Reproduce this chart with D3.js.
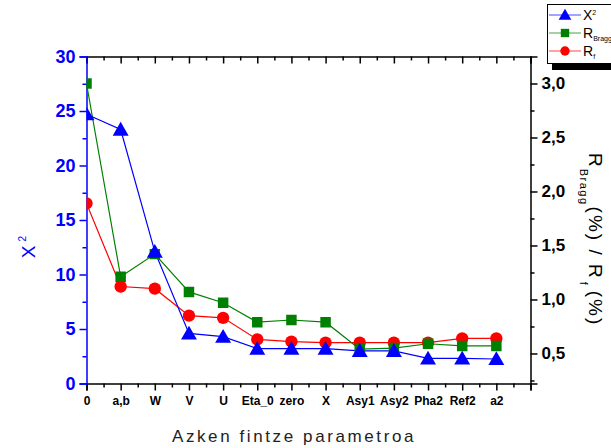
<!DOCTYPE html>
<html>
<head>
<meta charset="utf-8">
<script src="https://cdn.jsdelivr.net/npm/d3@7"></script>
<style>
  html, body { margin: 0; padding: 0; background: #fff; }
  svg { display: block; font-family: "Liberation Sans", Arial, sans-serif; }
</style>
</head>
<body>
<svg id="chart" width="611" height="448"></svg>
<script>
// Refinement steps along the x axis
const categories = ["0", "a,b", "W", "V", "U", "Eta_0", "zero", "X", "Asy1", "Asy2", "Pha2", "Ref2", "a2"];

// Goodness of fit (left axis)
const chi2 = [24.7, 23.3, 12.1, 4.6, 4.3, 3.2, 3.2, 3.2, 3.0, 3.0, 2.3, 2.3, 2.25];
// Agreement factors in % (right axis)
const rBragg = [3.0, 1.21, 1.42, 1.07, 0.97, 0.79, 0.81, 0.79, 0.54, 0.55, 0.59, 0.57, 0.57];
const rF = [1.89, 1.12, 1.10, 0.85, 0.83, 0.63, 0.61, 0.60, 0.60, 0.60, 0.60, 0.64, 0.64];

const leftTicks = [0, 5, 10, 15, 20, 25, 30];
const rightTicks = [0.5, 1.0, 1.5, 2.0, 2.5, 3.0];

const svg = d3.select("#chart");
const plot = { left: 86.5, right: 530.5, top: 56.5, bottom: 383.5 };

const x = d3.scaleLinear().domain([0, categories.length]).range([plot.left, plot.right]);
const yL = d3.scaleLinear().domain([0, 30]).range([plot.bottom, plot.top]);
const yR = d3.scaleLinear().domain([0.222, 3.25]).range([plot.bottom, plot.top]);

const BLUE = "#0000ff", GREEN = "#008000", RED = "#ff0000";

function styleAxis(g, color, fontSize) {
  g.selectAll("path.domain").attr("stroke", color).attr("stroke-width", 1.5);
  g.selectAll(".tick line").attr("stroke", color).attr("stroke-width", 1.5);
  g.selectAll(".tick text").attr("font-size", fontSize).attr("font-weight", "bold").attr("fill", color)
    .attr("font-family", "'Liberation Sans', Arial, sans-serif");
  g.selectAll("g > g > path.domain").remove();
}

// Bottom axis: labelled major ticks + half-step minor ticks, pointing outward
const axBottom = svg.append("g").attr("transform", `translate(0,${plot.bottom})`);
axBottom.call(d3.axisBottom(x).tickValues(d3.range(0, categories.length + 1)).tickSize(7)
  .tickFormat(i => categories[i] || ""));
axBottom.append("g").call(d3.axisBottom(x).tickValues(d3.range(0.5, categories.length, 1)).tickSize(4).tickFormat(""));
styleAxis(axBottom, "#000", 12);
axBottom.selectAll(".tick text").attr("dy", "0.95em");

// Top axis: ticks pointing into the plot
const axTop = svg.append("g").attr("transform", `translate(0,${plot.top})`);
axTop.call(d3.axisTop(x).tickValues(d3.range(0, categories.length + 1)).tickSize(-7).tickFormat(""));
axTop.append("g").call(d3.axisTop(x).tickValues(d3.range(0.5, categories.length, 1)).tickSize(-4).tickFormat(""));
styleAxis(axTop, "#000", 12);

// Left axis (chi-squared), blue
const axLeft = svg.append("g").attr("transform", `translate(${plot.left},0)`);
axLeft.call(d3.axisLeft(yL).tickValues(leftTicks).tickSize(7).tickPadding(4).tickFormat(d3.format("d")));
axLeft.append("g").call(d3.axisLeft(yL).tickValues(d3.range(2.5, 30, 5)).tickSize(4).tickFormat(""));
styleAxis(axLeft, BLUE, 18);

// Right axis (R factors), black with decimal commas
const commaFmt = d => d3.format(".1f")(d).replace(".", ",");
const axRight = svg.append("g").attr("transform", `translate(${plot.right},0)`);
axRight.call(d3.axisRight(yR).tickValues(rightTicks).tickSize(7).tickPadding(4).tickFormat(commaFmt));
axRight.append("g").call(d3.axisRight(yR).tickValues(d3.range(0.25, 3.25, 0.5)).tickSize(4).tickFormat(""));
styleAxis(axRight, "#000", 17);

// Axis titles
svg.append("text")
  .attr("transform", "translate(35,247) rotate(-90)")
  .attr("text-anchor", "middle").attr("fill", BLUE).attr("font-size", 19)
  .html('X<tspan font-size="10" dy="-9" dx="4">2</tspan>');

const rt = svg.append("text")
  .attr("transform", "translate(589,153) rotate(90)")
  .attr("text-anchor", "start").attr("fill", "#000").attr("font-size", 19);
rt.append("tspan").text("R");
rt.append("tspan").attr("font-size", 11).attr("dy", 9).attr("dx", 2).attr("letter-spacing", 1.5).text("Bragg");
rt.append("tspan").attr("dy", -9).attr("dx", 1).attr("letter-spacing", 2).text("(%) / R");
rt.append("tspan").attr("font-size", 11).attr("dy", 9).attr("dx", 2).text("f");
rt.append("tspan").attr("dy", -9).attr("dx", 6).attr("letter-spacing", 2).text("(%)");

svg.append("text")
  .attr("x", 294).attr("y", 442).attr("text-anchor", "middle")
  .attr("font-size", 17).attr("letter-spacing", 2.6).attr("fill", "#222")
  .text("Azken fintze parametroa");

// Series
const series = [
  { values: chi2, y: yL, color: BLUE, shape: "triangle" },
  { values: rBragg, y: yR, color: GREEN, shape: "square" },
  { values: rF, y: yR, color: RED, shape: "circle" }
];

svg.append("clipPath").attr("id", "plot-clip")
  .append("rect").attr("x", plot.left).attr("y", plot.top)
  .attr("width", plot.right - plot.left).attr("height", plot.bottom - plot.top);

const symbolType = { triangle: d3.symbolTriangle, square: d3.symbolSquare, circle: d3.symbolCircle };
const symbolSize = { triangle: 110, square: 110, circle: 120 };

const layer = svg.append("g").attr("clip-path", "url(#plot-clip)");
// draw in reverse so blue is on top
series.slice().reverse().forEach(s => {
  const line = d3.line().x((d, i) => x(i)).y(d => s.y(d));
  layer.append("path").datum(s.values)
    .attr("d", line).attr("fill", "none").attr("stroke", s.color).attr("stroke-width", 1.2);
});
series.slice().reverse().forEach(s => {
  layer.append("g").selectAll("path").data(s.values).join("path")
    .attr("transform", (d, i) => `translate(${x(i)},${s.y(d) + (s.shape === "triangle" ? 1.5 : 0)})`)
    .attr("d", d3.symbol().type(symbolType[s.shape]).size(symbolSize[s.shape])())
    .attr("fill", s.color);
});

// Legend with drop shadow
const lg = svg.append("g").attr("transform", "translate(547,4)");
lg.append("rect").attr("x", 5).attr("y", 5).attr("width", 80).attr("height", 61).attr("fill", "#000");
lg.append("rect").attr("x", 0.5).attr("y", 0.5).attr("width", 80).attr("height", 59)
  .attr("fill", "#fff").attr("stroke", "#000").attr("stroke-width", 1);
const legendItems = [
  { color: BLUE, shape: "triangle", y: 11, label: 'X<tspan font-size="7" dy="-5">2</tspan>' },
  { color: GREEN, shape: "square", y: 29, label: 'R<tspan font-size="7" dy="3">Bragg</tspan>' },
  { color: RED, shape: "circle", y: 47, label: 'R<tspan font-size="7" dy="3">f</tspan>' }
];
legendItems.forEach(it => {
  lg.append("line").attr("x1", 2).attr("x2", 34).attr("y1", it.y).attr("y2", it.y)
    .attr("stroke", it.color).attr("stroke-width", 1.2).attr("opacity", 0.6);
  lg.append("path").attr("transform", `translate(18,${it.y + (it.shape === "triangle" ? 1 : 0)})`)
    .attr("d", d3.symbol().type(symbolType[it.shape]).size(70)())
    .attr("fill", it.color);
  lg.append("text").attr("x", 36).attr("y", it.y + 5).attr("font-size", 14).attr("fill", "#000").html(it.label);
});
</script>
</body>
</html>
